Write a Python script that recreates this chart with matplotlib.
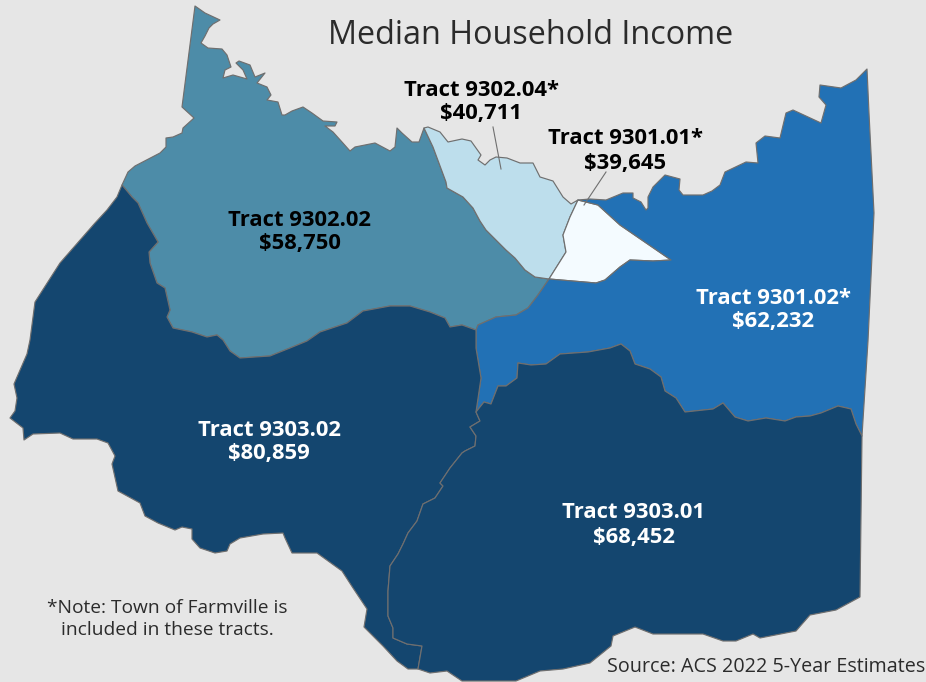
import matplotlib
matplotlib.use("Agg")
import matplotlib.pyplot as plt
from matplotlib.patches import Polygon

# tract boundaries (x, y in picture pixels), split in shared stretches
north_9302_02 = [(195,6),(205,13),(220,20),(213,24),(209,28),(205,36),(201,43),(208,48),(222,49),(227,55),(231,67),(225,70),(223,78),
    (233,75),(247,79),(243,70),(236,63),(239,61),(250,65),(255,77),(265,73),(257,83),(267,87),(271,95),(267,100),
    (278,102),(282,115),(285,115),(292,111),(303,107),(312,113),(323,121),(337,122),(335,126),(325,126),(333,132),
    (342,142),(350,151),(355,147),(375,143),(390,151),(395,147),(397,128),(402,133),(412,142),(419,142),(424,128)]
west_9302_02 = [(122,185),(128,172),(135,166),(160,153),(166,147),(166,138),(173,137),(182,133),(183,128),(194,118),(182,107)]
b_teal_light = [(424,128),(433,147),(446,182),(447,188),(463,197),(473,208),(480,221),(486,230),(506,250),(515,258),(525,270),(535,277),(549,279)]
b_teal_blue = [(549,279),(538,295),(528,308),(516,315),(496,317),(478,325),(476,330)]
b_teal_dark = [(476,330),(462,325),(450,327),(445,318),(430,312),(410,306),(390,306),(363,311),(355,317),(347,323),(320,332),(307,341),
    (290,348),(270,356),(240,358),(230,351),(223,340),(217,335),(207,337),(192,332),(173,328),(167,317),(170,310),
    (165,288),(157,283),(150,263),(149,252),(158,242),(147,223),(138,203),(132,197),(122,185)]
north_9302_04 = [(424,128),(428,127),(440,132),(448,142),(462,139),(471,141),(481,155),(478,160),(485,165),(490,160),(496,157),(507,158),(520,163),
    (533,163),(540,177),(553,181),(563,197),(571,204),(578,200)]
b_light_white = [(578,200),(570,217),(563,235),(566,252),(549,279)]
b_white_blue = [(578,200),(598,205),(620,225),(671,260),(653,261),(630,260),(620,267),(605,280),(596,283),(549,279)]
north_9301_02 = [(578,200),(590,199),(606,200),(623,193),(633,193),(633,198),(641,202),(646,210),(648,208),(648,197),(653,187),
    (665,175),(680,179),(679,190),(683,195),(703,195),(712,191),(720,185),(725,172),(746,162),(758,163),(756,143),(765,136),
    (780,138),(786,113),(793,110),(821,123),(826,105),(819,97),(820,85),(841,88),(856,80),(867,69),(869,113),(874,213),
    (868,341),(862,436)]
b_blue_9303_01 = [(862,436),(856,424),(851,409),(838,406),(821,413),(810,416),(796,417),(785,421),(766,418),(748,421),(735,417),
    (723,403),(713,409),(685,412),(676,398),(665,391),(661,377),(650,369),(635,364),(630,351),(621,344),(610,348),
    (588,352),(560,354),(546,364),(531,365),(518,363),(517,378),(506,386),(498,386),(491,404),(484,402),(476,412)]
b_blue_9303_02 = [(476,412),(481,378),(476,348),(476,330)]
b_9303 = [(476,412),(480,421),(470,427),(476,436),(475,446),(465,451),(462,453),(450,468),(440,483),(443,486),(435,498),(423,504),
    (417,521),(408,533),(403,544),(398,554),(390,566),(388,591),(388,616),(393,628),(393,638),(407,644),(422,646),(418,669)]
south_9303_02 = [(418,669),(408,669),(397,661),(383,646),(364,627),(367,609),(353,588),(342,571),(317,553),(292,553),(285,538),
    (283,533),(263,534),(240,538),(230,544),(227,551),(215,553),(200,548),(192,539),(192,529),(182,527),(175,530),
    (158,523),(145,516),(140,503),(118,491),(112,464),(115,456),(108,443),(97,439),(73,439),(60,433),(33,434),(24,440),
    (23,428),(10,418),(15,411),(17,398),(14,384),(27,354),(30,340),(35,302),(60,263),(95,223),(107,210),(117,197),(122,185)]
south_9303_01 = [(418,669),(430,673),(447,671),(462,681),(516,681),(540,671),(563,669),(590,663),(611,646),(613,636),(635,627),
    (653,634),(703,634),(723,641),(736,641),(753,634),(760,638),(796,631),(810,615),(836,610),(860,597),(862,436)]

tract_names = ["Tract 9302.02", "Tract 9302.04*", "Tract 9301.01*", "Tract 9301.02*", "Tract 9303.02", "Tract 9303.01"]
tract_incomes = ["$58,750", "$40,711", "$39,645", "$62,232", "$80,859", "$68,452"]
tract_colors = ["#4d8ca8", "#bddeec", "#f4fbff", "#2271b5", "#14466f", "#14466f"]
tract_outlines = [
    north_9302_02 + b_teal_light + b_teal_blue + b_teal_dark + west_9302_02,
    north_9302_04 + b_light_white + b_teal_light[::-1],
    b_white_blue + b_light_white[::-1],
    north_9301_02 + b_blue_9303_01 + b_blue_9303_02 + b_teal_blue[::-1] + b_white_blue[::-1],
    b_teal_dark[::-1] + b_blue_9303_02[::-1] + b_9303 + south_9303_02,
    b_9303 + south_9303_01 + b_blue_9303_01,
]

plt.rcParams['font.family'] = ['Open Sans', 'DejaVu Sans']
bg = "#e6e6e6"

fig = plt.figure(figsize=(9.26, 6.82), dpi=100, facecolor=bg)
ax = fig.add_axes([0, 0, 1, 1])
ax.set_xlim(0, 926)
ax.set_ylim(682, 0)
ax.axis("off")

for outline, color in zip(tract_outlines, tract_colors):
    ax.add_patch(Polygon(outline, closed=True, facecolor=color, edgecolor="#6f6f6f", linewidth=0.85, joinstyle="round"))

# leader lines for the two small tracts
ax.plot([493, 501], [127, 169], color="#6f6f6f", linewidth=0.8)
ax.plot([606, 584], [172, 205], color="#6f6f6f", linewidth=0.8)

label_x = [300, 481, 625, 773, 269, 634]
label_y = [232, 102, 151, 310, 442, 525]
label_colors = ["black", "black", "black", "white", "white", "white"]
for name, income, x, y, c in zip(tract_names, tract_incomes, label_x, label_y, label_colors):
    ax.text(x, y - 12, name, color=c, fontsize=15.8, fontweight="bold", ha="center", va="center")
    ax.text(x, y + 12, income, color=c, fontsize=15.8, fontweight="bold", ha="center", va="center")

ax.text(531, 35, "Median Household Income", color="#2b2b2b", fontsize=23.3, ha="center", va="center")
ax.text(167, 608, "*Note: Town of Farmville is", color="#2b2b2b", fontsize=13.8, ha="center", va="center")
ax.text(167, 630, "included in these tracts.", color="#2b2b2b", fontsize=13.8, ha="center", va="center")
ax.text(925, 667, "Source: ACS 2022 5-Year Estimates", color="#2b2b2b", fontsize=14.2, ha="right", va="center")

fig.savefig("out.png", dpi=100, facecolor=bg)
